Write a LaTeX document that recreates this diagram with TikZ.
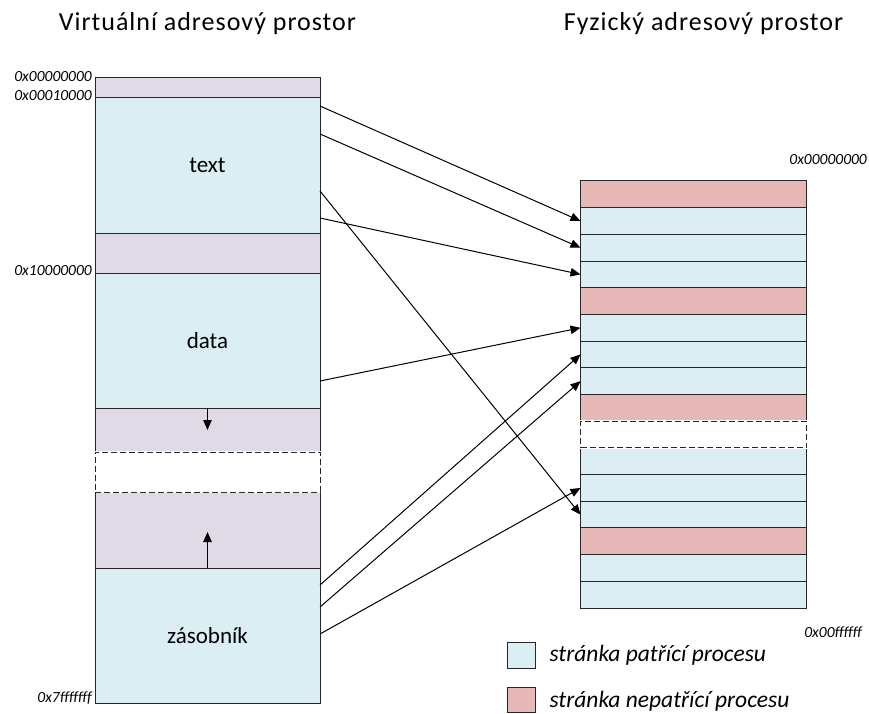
\documentclass[tikz,border=0pt]{standalone}
\usepackage{fontspec}
\setmainfont{Carlito}
\newfontfamily\titlefont[LetterSpace=3.8]{Carlito}
\usetikzlibrary{arrows.meta}
\definecolor{pgblue}{HTML}{DAEEF3}
\definecolor{pgred}{HTML}{E6B9B8}
\definecolor{pgfree}{HTML}{E0DAE7}
\tikzset{
  seg/.style={draw=black!85, line width=1pt, outer sep=0pt, inner sep=0pt, minimum width=225pt},
  pg/.style={draw=black!85, line width=1pt, outer sep=0pt, inner sep=0pt, minimum width=226pt, minimum height=26.69pt},
  hole/.style={dashed, dash pattern=on 6pt off 3pt, fill=white, preaction={draw=white, solid, line width=1.6pt}},
  addr/.style={font=\fontsize{15.5}{17}\selectfont\itshape, inner sep=1pt},
  map/.style={-{Triangle[length=10pt, width=8.5pt]}, line width=1pt},
}
\begin{document}
\begin{tikzpicture}[x=1pt, y=-1pt]
		\useasboundingbox (0,0) rectangle (869,713);
		% virtual address space
		\node [seg, fill=pgfree, minimum height=20pt] (a0) at (207.5, 87) {};
		\node [seg, fill=pgblue, minimum height=136pt, font=\fontsize{23}{26}\selectfont] (text) at (207.5, 165) {text};
		\node [seg, fill=pgfree, minimum height=40pt] (a1) at (207.5, 253) {};
		\node [seg, fill=pgblue, minimum height=135pt, font=\fontsize{23}{26}\selectfont] (data) at (207.5, 340.5) {data};
		\node [seg, fill=pgfree, minimum height=44pt] (heap) at (207.5, 430) {};
		\node [seg, fill=pgfree, minimum height=76pt] (a2) at (207.5, 530) {};
		\node [seg, hole, minimum height=40pt] (gap) at (207.5, 472) {};
		\node [seg, fill=pgblue, minimum height=135pt, font=\fontsize{23}{26}\selectfont] (stack) at (207.5, 635.5) {zásobník};
		\coordinate (hd) at (207.5, 430);
		\coordinate (su) at (207.5, 532);
		\draw [map] (heap.north) to (hd);
		\draw [map] (a2.south) to (su);
		% physical address space
		\node [pg, fill=pgred] (p1) at (693.5, 194.3) {};
		\node [pg, fill=pgblue] (p2) at (693.5, 221.0) {};
		\node [pg, fill=pgblue] (p3) at (693.5, 247.7) {};
		\node [pg, fill=pgblue] (p4) at (693.5, 274.4) {};
		\node [pg, fill=pgred] (p5) at (693.5, 301.1) {};
		\node [pg, fill=pgblue] (p6) at (693.5, 327.8) {};
		\node [pg, fill=pgblue] (p7) at (693.5, 354.5) {};
		\node [pg, fill=pgblue] (p8) at (693.5, 381.2) {};
		\node [pg, fill=pgred] (p9) at (693.5, 407.9) {};
		\node [pg, fill=pgblue] (p11) at (693.5, 461.3) {};
		\node [pg, fill=pgblue] (p12) at (693.5, 488.0) {};
		\node [pg, fill=pgblue] (p13) at (693.5, 514.6) {};
		\node [pg, fill=pgred] (p14) at (693.5, 541.3) {};
		\node [pg, fill=pgblue] (p15) at (693.5, 568.0) {};
		\node [pg, fill=pgblue] (p16) at (693.5, 594.7) {};
		\node [pg, hole] (p10) at (693.5, 434.6) {};
		% mapping
		\coordinate (s1) at (320, 106);
		\coordinate (s2) at (320, 134);
		\coordinate (s3) at (320, 191);
		\coordinate (s4) at (320, 218);
		\coordinate (s5) at (320, 381);
		\coordinate (s6) at (320, 585);
		\coordinate (s7) at (320, 607);
		\coordinate (s8) at (320, 634);
		\draw [map] (s1) to (p2.west);
		\draw [map] (s2) to (p3.west);
		\draw [map] (s3) to (p13.west);
		\draw [map] (s4) to (p4.west);
		\draw [map] (s5) to (p6.west);
		\draw [map] (s6) to (p7.west);
		\draw [map] (s7) to (p8.west);
		\draw [map] (s8) to (p12.west);
		% labels
		\node [font=\fontsize{26}{30}\titlefont] (vt) at (207.5, 24) {Virtuální adresový prostor};
		\node [font=\fontsize{26}{30}\titlefont] (ft) at (703.5, 24) {Fyzický adresový prostor};
		\node [addr, anchor=east] (v0) at (93, 77) {0x00000000};
		\node [addr, anchor=east] (v1) at (93, 96) {0x00010000};
		\node [addr, anchor=east] (v2) at (93, 271) {0x10000000};
		\node [addr, anchor=east] (v3) at (93, 698) {0x7fffffff};
		\node [addr, anchor=east] (f0) at (868, 160) {0x00000000};
		\node [addr, anchor=east] (f1) at (863, 632) {0x00ffffff};
		% legend
		\node [pg, fill=pgblue, minimum width=28pt, minimum height=26pt] (lb) at (521, 655) {};
		\node [pg, fill=pgred, minimum width=28pt, minimum height=25pt] (lr) at (521, 699.5) {};
		\node [anchor=west, font=\fontsize{23.5}{26}\selectfont\itshape] (lbt) at (546, 655) {stránka patřící procesu};
		\node [anchor=west, font=\fontsize{23.5}{26}\selectfont\itshape] (lrt) at (546, 701) {stránka nepatřící procesu};
\end{tikzpicture}
\end{document}
